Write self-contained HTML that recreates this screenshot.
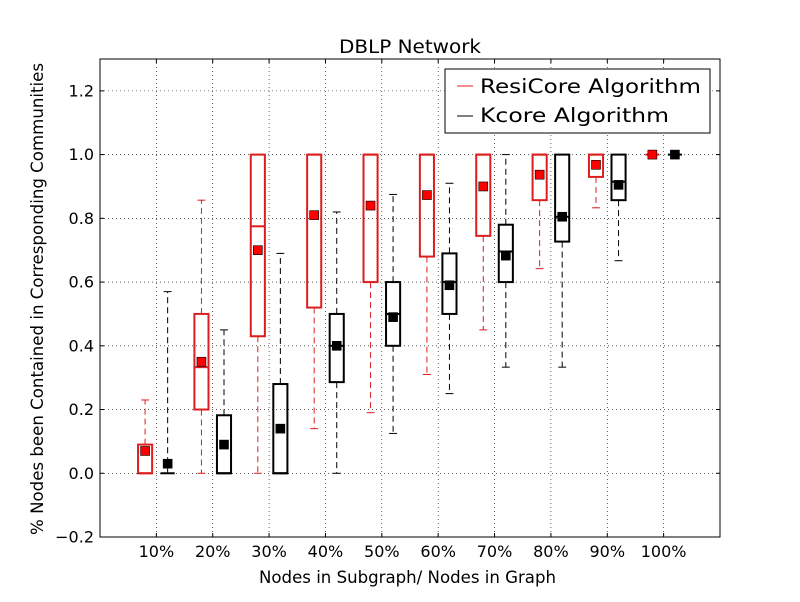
<!DOCTYPE html>
<html><head><meta charset="utf-8"><style>
body{margin:0;background:#fff;}
svg text{font-family:"DejaVu Sans","Liberation Sans",sans-serif;}
</style></head><body>
<svg id="chart" width="800" height="597" xmlns="http://www.w3.org/2000/svg">
<rect width="800" height="597" fill="#fff"/>
<g id="grid"></g>
<g id="marks"></g>
<rect x="100" y="59" width="620" height="478" fill="none" stroke="#000" stroke-width="1"/>
<g id="axes"></g>
<text x="339" y="53" font-size="18.5" textLength="142" lengthAdjust="spacingAndGlyphs">DBLP Network</text>
<text x="259" y="583" font-size="17" textLength="297" lengthAdjust="spacingAndGlyphs">Nodes in Subgraph/ Nodes in Graph</text>
<text transform="translate(43,535) rotate(-90)" font-size="17" textLength="472" lengthAdjust="spacingAndGlyphs">% Nodes been Contained in Corresponding Communities</text>
<g>
<rect x="445" y="69" width="265" height="64" fill="#fff" stroke="#000" stroke-width="1"/>
<line x1="457" y1="86" x2="473" y2="86" stroke="#e02020" stroke-width="1"/>
<text x="480" y="93" font-size="19.5" textLength="221" lengthAdjust="spacingAndGlyphs">ResiCore Algorithm</text>
<line x1="457" y1="116" x2="473" y2="116" stroke="#000" stroke-width="1"/>
<text x="480" y="122" font-size="19.5" textLength="189" lengthAdjust="spacingAndGlyphs">Kcore Algorithm</text>
</g>
</svg>
<script>
const categories=["10%","20%","30%","40%","50%","60%","70%","80%","90%","100%"];
const yTicks=[-0.2,0,0.2,0.4,0.6,0.8,1.0,1.2];
const yTickLabels=["\u22120.2","0.0","0.2","0.4","0.6","0.8","1.0","1.2"];
const resiLow=[0,0,0,0.14,0.19,0.31,0.45,0.642,0.833,1];
const resiQ1=[0,0.2,0.43,0.52,0.6,0.68,0.745,0.857,0.93,1];
const resiMed=[0,0.333,0.775,1,1,1,1,1,1,1];
const resiQ3=[0.09,0.5,1,1,1,1,1,1,1,1];
const resiHigh=[0.23,0.857,1,1,1,1,1,1,1,1];
const resiMean=[0.07,0.35,0.70,0.81,0.84,0.873,0.90,0.937,0.968,1];
const kLow=[0,0,0,0,0.125,0.25,0.333,0.333,0.667,1];
const kQ1=[0,0,0,0.286,0.4,0.5,0.6,0.727,0.857,1];
const kMed=[0,0,0,0.4,0.5,0.6,0.696,0.805,0.915,1];
const kQ3=[0,0.182,0.28,0.5,0.6,0.69,0.78,1,1,1];
const kHigh=[0.57,0.45,0.69,0.82,0.875,0.91,1,1,1,1];
const kMean=[0.03,0.09,0.14,0.4,0.49,0.59,0.683,0.805,0.905,1];

const X0=100,X1=720,Y0=537,Y1=59;
const xs=i=>X0+(i+1)/11*(X1-X0);
const ys=v=>Y0-(v+0.2)/1.5*(Y0-Y1);
const NS="http://www.w3.org/2000/svg";
function mk(parent,tag,attrs){const e=document.createElementNS(NS,tag);for(const k in attrs)e.setAttribute(k,attrs[k]);parent.appendChild(e);return e;}
const grid=document.getElementById('grid'),axes=document.getElementById('axes'),marks=document.getElementById('marks');
yTicks.forEach((t,i)=>{const y=ys(t);
 const g=mk(grid,'line',{x1:X0,x2:X1,y1:y,y2:y,stroke:'#000','stroke-width':0.6,'stroke-dasharray':'1,3'});
 
 
 mk(axes,'line',{x1:X0,x2:X0+4,y1:y,y2:y,stroke:'#000'});
 mk(axes,'line',{x1:X1-4,x2:X1,y1:y,y2:y,stroke:'#000'});
 const tx=mk(axes,'text',{x:X0-6,y:y+5.5,'font-size':16,'text-anchor':'end'});tx.textContent=yTickLabels[i];
 
 
});
categories.forEach((c,i)=>{const x=xs(i);
 const g=mk(grid,'line',{x1:x,x2:x,y1:Y1,y2:Y0,stroke:'#000','stroke-width':0.6,'stroke-dasharray':'1,3'});
 
 
 mk(axes,'line',{x1:x,x2:x,y1:Y0,y2:Y0-4,stroke:'#000'});
 mk(axes,'line',{x1:x,x2:x,y1:Y1,y2:Y1+4,stroke:'#000'});
 const tx=mk(axes,'text',{x:x,y:557,'font-size':16,'text-anchor':'middle'});tx.textContent=c;
 
 
});
const bw=(X1-X0)/11*0.25, cw=(X1-X0)/11*0.14;
function box(i,off,col,lo,q1,md,q3,hi,mn,name){
 const x=xs(i)+off*(X1-X0)/11;
 const g=mk(marks,'g',{});
 
 
 mk(g,'line',{x1:x,x2:x,y1:ys(q3),y2:ys(hi),stroke:col,'stroke-width':1,'stroke-dasharray':'6,4'});
 mk(g,'line',{x1:x,x2:x,y1:ys(q1),y2:ys(lo),stroke:col,'stroke-width':1,'stroke-dasharray':'6,4'});
 mk(g,'line',{x1:x-cw/2,x2:x+cw/2,y1:ys(hi),y2:ys(hi),stroke:col,'stroke-width':1});
 mk(g,'line',{x1:x-cw/2,x2:x+cw/2,y1:ys(lo),y2:ys(lo),stroke:col,'stroke-width':1});
 mk(g,'rect',{x:x-bw/2,y:ys(q3),width:bw,height:Math.max(0,ys(q1)-ys(q3)),fill:'none',stroke:col,'stroke-width':2});
 mk(g,'line',{x1:x-bw/2,x2:x+bw/2,y1:ys(md),y2:ys(md),stroke:col,'stroke-width':2});
 mk(g,'rect',{x:x-4.5,y:ys(mn)-4.5,width:9,height:9,fill:col==='#000'?'#000':'#ff0000',stroke:'#000','stroke-width':0.6});
}
categories.forEach((c,i)=>{
 box(i,-0.2,'#dc1e1e',resiLow[i],resiQ1[i],resiMed[i],resiQ3[i],resiHigh[i],resiMean[i],'resicore-box');
 box(i,0.2,'#000',kLow[i],kQ1[i],kMed[i],kQ3[i],kHigh[i],kMean[i],'kcore-box');
});
</script>
</body></html>
